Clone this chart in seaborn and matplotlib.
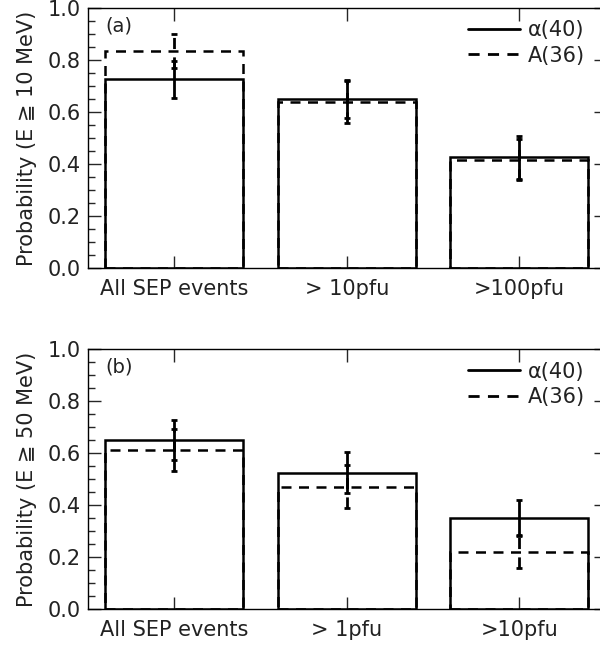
import seaborn as sns
import matplotlib.pyplot as plt
from matplotlib.lines import Line2D
from matplotlib.ticker import MultipleLocator

# values
cats_a = ["All SEP events", "> 10pfu", ">100pfu"]
alpha_a = [0.725, 0.650, 0.425]
alpha_a_err = [0.070, 0.074, 0.082]
A_a = [0.833, 0.639, 0.417]
A_a_err = [0.065, 0.082, 0.079]

cats_b = ["All SEP events", "> 1pfu", ">10pfu"]
alpha_b = [0.650, 0.525, 0.350]
alpha_b_err = [0.077, 0.079, 0.070]
A_b = [0.611, 0.472, 0.222]
A_b_err = [0.081, 0.081, 0.065]

ylabels = ["Probability (E \u2267 10 MeV)", "Probability (E \u2267 50 MeV)"]
panel_tags = ["(a)", "(b)"]
legend_labels = ["\u03b1(40)", "A(36)"]

sns.set_style("ticks")
plt.rcParams['font.family'] = ['DejaVu Sans']
plt.rcParams['text.color'] = '#222222'
plt.rcParams['xtick.labelcolor'] = '#222222'
plt.rcParams['ytick.labelcolor'] = '#222222'
plt.rcParams['axes.labelcolor'] = '#222222'

fig = plt.figure(figsize=(6, 6.47), dpi=100)
ax_a = fig.add_axes([0.1467, 0.5858, 0.8625, 0.4019])
ax_b = fig.add_axes([0.1467, 0.0583, 0.8625, 0.4019])

panels = [
    (ax_a, cats_a, alpha_a, alpha_a_err, A_a, A_a_err),
    (ax_b, cats_b, alpha_b, alpha_b_err, A_b, A_b_err),
]

for i, (ax, cats, sol, sol_err, dsh, dsh_err) in enumerate(panels):
    # dashed bars (A) then solid bars (alpha)
    sns.barplot(x=cats, y=dsh, ax=ax, fill=False, color='k', width=0.8,
                linewidth=1.8, linestyle=(0, (4, 3)), errorbar=None)
    sns.barplot(x=cats, y=sol, ax=ax, fill=False, color='k', width=0.8,
                linewidth=1.8, errorbar=None)

    eb = ax.errorbar(range(len(cats)), dsh, yerr=dsh_err, fmt='none',
                     ecolor='k', elinewidth=2, capsize=2, capthick=2)
    eb[2][0].set_linestyle((0, (4, 3)))
    ax.errorbar(range(len(cats)), sol, yerr=sol_err, fmt='none',
                ecolor='k', elinewidth=2, capsize=2, capthick=2)

    ax.set_xlim(-0.5, 2.5)
    ax.set_ylim(0, 1.0)
    ax.yaxis.set_major_locator(MultipleLocator(0.2))
    ax.yaxis.set_minor_locator(MultipleLocator(0.05))
    ax.tick_params(which='major', direction='in', top=True, right=True,
                   length=9, width=1, labelsize=15, pad=5)
    ax.tick_params(axis='x', which='major', pad=8)
    ax.tick_params(which='minor', direction='in', length=5, width=1,
                   right=False)
    ax.set_yticklabels([f"{v:.1f}" for v in ax.get_yticks()])
    for s in ax.spines.values():
        s.set_linewidth(1)
        s.set_color('k')

    ax.set_xlabel("")
    ax.set_ylabel(ylabels[i], fontsize=15, labelpad=8)
    ax.text(0.033, 0.93, panel_tags[i], transform=ax.transAxes,
            fontsize=14, va='center', ha='left')

    handles = [Line2D([], [], color='k', lw=2),
               Line2D([], [], color='k', lw=2, linestyle=(0, (4, 3)))]
    ax.legend(handles, legend_labels, loc='upper right', frameon=False,
              fontsize=15, handlelength=2.5, handletextpad=0.4,
              labelspacing=0.25, borderaxespad=0.2,
              bbox_to_anchor=(0.985, 1.0))

fig.savefig("out.png", dpi=100)
